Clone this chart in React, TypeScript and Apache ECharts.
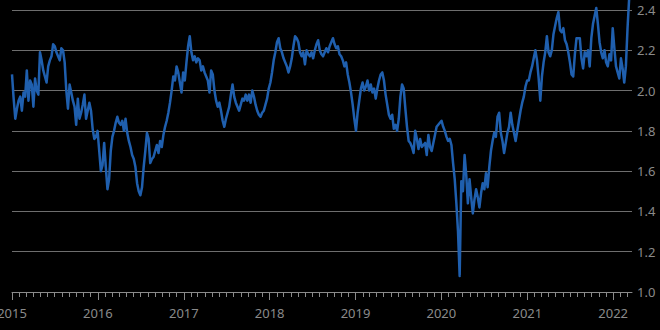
import React, { useEffect, useRef } from "react";
import * as echarts from "echarts";

// Weekly observations, starting 2015-01-01
const startDate = "2015-01-01";
const stepDays = 7;
const values: number[] = [
  2.08, 1.96, 1.86, 1.91, 1.95, 1.97, 1.90, 1.99, 1.97, 2.10,
  1.95, 2.05, 2.03, 1.92, 2.06, 2.00, 1.98, 2.19, 2.15, 2.10,
  2.07, 2.04, 2.12, 2.15, 2.17, 2.23, 2.22, 2.19, 2.17, 2.15,
  2.21, 2.20, 2.14, 2.00, 1.91, 2.03, 1.99, 1.95, 1.92, 1.83,
  1.96, 1.86, 1.89, 1.93, 1.98, 1.86, 1.90, 1.94, 1.90, 1.81,
  1.76, 1.77, 1.80, 1.70, 1.60, 1.63, 1.74, 1.62, 1.51, 1.56,
  1.70, 1.77, 1.80, 1.84, 1.87, 1.84, 1.83, 1.85, 1.80, 1.86,
  1.79, 1.75, 1.72, 1.68, 1.66, 1.62, 1.54, 1.50, 1.48, 1.52,
  1.62, 1.70, 1.79, 1.76, 1.64, 1.66, 1.67, 1.70, 1.73, 1.69,
  1.75, 1.72, 1.78, 1.82, 1.85, 1.89, 1.94, 2.00, 2.07, 2.05,
  2.12, 2.09, 2.04, 1.99, 2.09, 2.05, 2.14, 2.22, 2.27, 2.19,
  2.15, 2.17, 2.14, 2.16, 2.15, 2.10, 2.12, 2.09, 2.07, 2.05,
  1.99, 2.10, 2.08, 2.00, 1.95, 1.92, 1.94, 1.90, 1.85, 1.82,
  1.86, 1.89, 1.92, 1.98, 2.03, 1.97, 1.94, 1.92, 1.90, 1.93,
  1.96, 1.95, 1.98, 1.95, 1.98, 1.94, 2.00, 1.97, 1.93, 1.90,
  1.88, 1.87, 1.89, 1.90, 1.93, 1.96, 2.01, 2.04, 2.09, 2.15,
  2.19, 2.24, 2.26, 2.21, 2.19, 2.16, 2.14, 2.12, 2.09, 2.12,
  2.16, 2.22, 2.27, 2.26, 2.24, 2.19, 2.17, 2.19, 2.13, 2.20,
  2.18, 2.17, 2.19, 2.16, 2.20, 2.23, 2.25, 2.20, 2.18, 2.17,
  2.19, 2.21, 2.19, 2.22, 2.24, 2.26, 2.23, 2.21, 2.22, 2.18,
  2.17, 2.15, 2.12, 2.14, 2.08, 2.04, 1.99, 1.93, 1.86, 1.80,
  1.89, 1.95, 2.01, 2.04, 2.00, 2.02, 2.05, 2.00, 2.03, 1.99,
  2.01, 1.96, 2.01, 2.05, 2.08, 2.09, 2.05, 1.98, 1.93, 1.88,
  1.86, 1.88, 1.81, 1.83, 1.80, 1.86, 1.97, 2.03, 2.01, 1.91,
  1.82, 1.75, 1.74, 1.72, 1.69, 1.80, 1.76, 1.71, 1.76, 1.72,
  1.73, 1.74, 1.68, 1.78, 1.72, 1.70, 1.74, 1.78, 1.82, 1.83,
  1.84, 1.85, 1.82, 1.80, 1.77, 1.75, 1.76, 1.73, 1.64, 1.56,
  1.44, 1.30, 1.08, 1.55, 1.50, 1.68, 1.58, 1.44, 1.56, 1.47,
  1.39, 1.46, 1.51, 1.47, 1.42, 1.49, 1.54, 1.51, 1.59, 1.52,
  1.62, 1.70, 1.75, 1.79, 1.77, 1.87, 1.89, 1.79, 1.75, 1.69,
  1.74, 1.79, 1.82, 1.89, 1.83, 1.79, 1.75, 1.80, 1.85, 1.90,
  1.94, 1.97, 2.02, 2.05, 2.05, 2.09, 2.12, 2.16, 2.20, 2.15,
  2.06, 1.95, 2.07, 2.14, 2.19, 2.27, 2.19, 2.17, 2.20, 2.28,
  2.32, 2.36, 2.39, 2.30, 2.29, 2.31, 2.25, 2.23, 2.19, 2.14,
  2.08, 2.07, 2.18, 2.26, 2.26, 2.26, 2.16, 2.11, 2.19, 2.17,
  2.20, 2.12, 2.26, 2.33, 2.37, 2.41, 2.33, 2.24, 2.19, 2.16,
  2.20, 2.14, 2.12, 2.18, 2.15, 2.31, 2.21, 2.12, 2.09, 2.06,
  2.16, 2.11, 2.04, 2.12, 2.31, 2.46,
];

const axisStart = "2015-01-01";
const axisEnd = "2022-03-22";
const years = [2015, 2016, 2017, 2018, 2019, 2020, 2021, 2022];
const yMin = 1.0;
const yMax = 2.4;
const yStep = 0.2;

const DAY = 86400000;

export default function App() {
  const ref = useRef<HTMLDivElement>(null);
  useEffect(() => {
    if (!ref.current) return;
    const chart = echarts.init(ref.current, undefined, { renderer: "svg" });
    const t0 = Date.parse(startDate + "T00:00:00Z");
    const data = values.map((v, i) => [t0 + i * stepDays * DAY, v]);
    const minT = Date.parse(axisStart + "T00:00:00Z");
    const maxT = Date.parse(axisEnd + "T00:00:00Z");
    const monthTicks: number[] = [];
    for (let y = years[0]; y <= years[years.length - 1]; y++) {
      for (let m = 0; m < 12; m++) {
        const t = Date.UTC(y, m, 1);
        if (t >= minT && t <= maxT) monthTicks.push(t);
      }
    }
    const yearTicks = years.map((y) => Date.UTC(y, 0, 1));
    const font = "'Noto Sans', sans-serif";
    chart.setOption({
      animation: false,
      backgroundColor: "#000000",
      grid: { left: 12, right: 28, top: 10, bottom: 38, outerBoundsMode: "none", containLabel: false },
      xAxis: [
        {
          type: "value",
          min: minT,
          max: maxT,
          position: "bottom",
          axisLine: { show: true, lineStyle: { color: "#8a8a8a", width: 1 } },
          axisTick: { show: true, customValues: monthTicks, length: 5, lineStyle: { color: "#8a8a8a" } },
          axisLabel: { show: false },
          splitLine: { show: false },
        },
        {
          type: "value",
          min: minT,
          max: maxT,
          position: "bottom",
          axisLine: { show: false },
          axisTick: { show: true, customValues: yearTicks, length: 8, lineStyle: { color: "#8a8a8a" } },
          axisLabel: {
            show: true,
            customValues: yearTicks,
            formatter: (v: number) => String(new Date(v).getUTCFullYear()),
            color: "#8a8a8a",
            fontSize: 13,
            fontFamily: font,
            margin: 14,
          },
          splitLine: { show: false },
        },
      ],
      yAxis: {
        type: "value",
        position: "right",
        min: yMin,
        max: yMax,
        interval: yStep,
        axisLine: { show: false },
        axisTick: { show: false },
        axisLabel: {
          color: "#8a8a8a",
          fontSize: 13,
          fontFamily: font,
          margin: 5,
          formatter: (v: number) => v.toFixed(1),
        },
        splitLine: { show: true, lineStyle: { color: "#6e6e6e", width: 1 } },
      },
      series: [
        {
          type: "line",
          data,
          xAxisIndex: 0,
          showSymbol: false,
          symbol: "none",
          clip: false,
          lineStyle: { color: "#1f5fae", width: 2.5, join: "round" },
        },
      ],
    });
    return () => chart.dispose();
  }, []);
  return (
    <div
      ref={ref}
      style={{ position: "fixed", left: 0, top: 0, width: 660, height: 330 }}
    />
  );
}
